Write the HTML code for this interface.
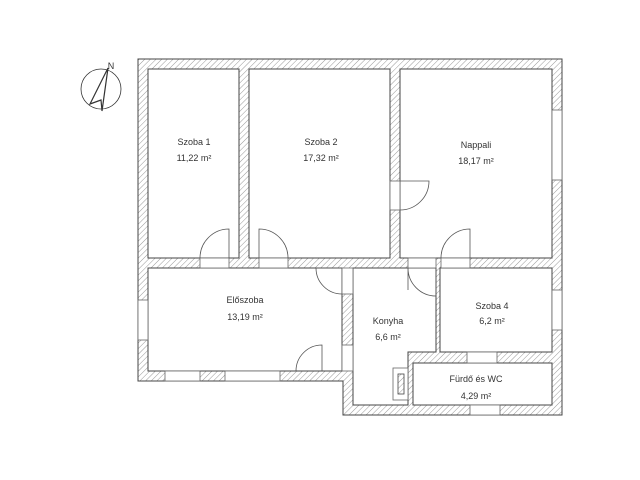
<!DOCTYPE html>
<html><head><style>
html,body{margin:0;padding:0;background:#fff;}
svg{display:block;}
text{font-family:"Liberation Sans",sans-serif;font-size:9px;fill:#333;text-anchor:middle;}
</style></head><body>
<svg width="640" height="480" viewBox="0 0 640 480">
<defs>
<pattern id="h" width="4" height="4" patternUnits="userSpaceOnUse" patternTransform="rotate(45)">
<rect width="4" height="4" fill="#fff"/><line x1="0" y1="0" x2="0" y2="4" stroke="#999" stroke-width="1"/>
</pattern>
</defs>
<!-- walls -->
<path d="M138,59 H562 V415 H343 V381 H138 Z" fill="url(#h)" stroke="#444" stroke-width="1"/>
<g fill="#fff" stroke="#444" stroke-width="1">
<rect x="148" y="69" width="91" height="189"/>
<rect x="249" y="69" width="141" height="189"/>
<rect x="400" y="69" width="152" height="189"/>
<rect x="148" y="268" width="194" height="103"/>
<path d="M353,268 H436 V352 H408 V405 H353 Z"/>
<rect x="440" y="268" width="112" height="84"/>
<rect x="413" y="363" width="139" height="42"/>
</g>
<!-- openings -->
<g fill="#fff" stroke="#666" stroke-width="0.8">
<rect x="200" y="258" width="29" height="10"/>
<rect x="259" y="258" width="29" height="10"/>
<rect x="441" y="258" width="29" height="10"/>
<rect x="390" y="181" width="10" height="29"/>
<rect x="342" y="268" width="11" height="26"/>
<rect x="342" y="345" width="11" height="26"/>
<rect x="408" y="258" width="28" height="10"/>
<rect x="138" y="300" width="10" height="40"/>
<rect x="165" y="371" width="35" height="10"/>
<rect x="225" y="371" width="55" height="10"/>
<rect x="552" y="110" width="10" height="70"/>
<rect x="552" y="290" width="10" height="40"/>
<rect x="467" y="352" width="30" height="11"/>
<rect x="470" y="405" width="30" height="10"/>
<rect x="393" y="368" width="15" height="32"/>
</g>
<rect x="398" y="374" width="6" height="20" fill="url(#h)" stroke="#444" stroke-width="0.8"/>
<!-- doors -->
<g fill="none" stroke="#555" stroke-width="0.8">
<path d="M229,258 V229 A29,29 0 0 0 200,258"/>
<path d="M259,258 V229 A29,29 0 0 1 288,258"/>
<path d="M470,258 V229 A29,29 0 0 0 441,258"/>
<path d="M400,181 H429 A29,29 0 0 1 400,210"/>
<path d="M342,268 H316 A26,26 0 0 0 342,294"/>
<path d="M322,371 V345 A26,26 0 0 0 296,371"/>
<path d="M408,268 V290 M408,268 A28,28 0 0 0 436,296 V268" />
</g>
<!-- compass -->
<g stroke="#333" fill="none" stroke-width="0.8">
<circle cx="101" cy="89" r="20"/>
<path d="M108,68 L90,104 L101,100 L102,111 Z" stroke-width="1.2"/>
<text x="111" y="69" style="font-size:9px;stroke:none">N</text>
</g>
<!-- labels -->
<text x="194" y="145">Szoba 1</text><text x="194" y="161">11,22 m²</text>
<text x="321" y="145">Szoba 2</text><text x="321" y="161">17,32 m²</text>
<text x="476" y="148">Nappali</text><text x="476" y="164">18,17 m²</text>
<text x="245" y="303">Előszoba</text><text x="245" y="320">13,19 m²</text>
<text x="388" y="324">Konyha</text><text x="388" y="340">6,6 m²</text>
<text x="492" y="309">Szoba 4</text><text x="492" y="324">6,2 m²</text>
<text x="476" y="382">Fürdő és WC</text><text x="476" y="399">4,29 m²</text>
</svg>
</body></html>
